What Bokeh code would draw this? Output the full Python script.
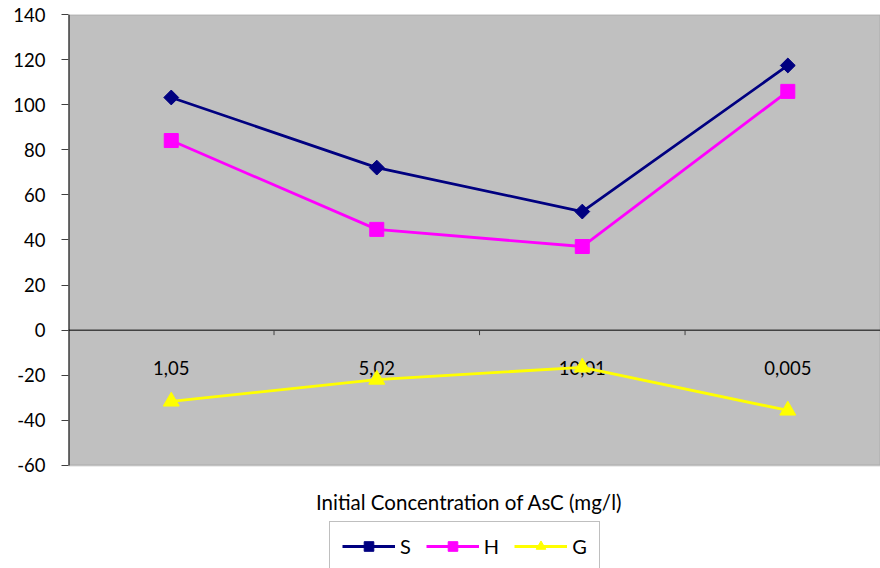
import math
from bokeh.plotting import figure
from bokeh.models import (Range1d, FixedTicker, Legend, LegendItem,
                          ColumnDataSource, BoxAnnotation, Label)
from bokeh.core.properties import value
from bokeh.embed import file_html
from bokeh.resources import INLINE

# Initial AsC concentrations (mg/l) and the three thermodynamic series
categories = ["1,05", "5,02", "10,01", "0,005"]
s_values = [103.2, 72.1, 52.6, 117.4]
h_values = [84.1, 44.7, 37.1, 105.9]
g_values = [-31.6, -21.9, -16.5, -35.6]
y_ticks = [-60, -40, -20, 0, 20, 40, 60, 80, 100, 120, 140]
y_min, y_max = -60, 140

FONT = "Lato"
xs = [i + 0.5 for i in range(len(categories))]
x_end = 3.951

# The canvas below the plot area (axis title and legend) lives inside the
# frame, so the visible plot area is drawn as a box over [y_min, y_max].
p = figure(width=880, height=568, output_backend="svg", toolbar_location=None,
           x_range=Range1d(0, x_end), y_range=Range1d(-105.7, y_max),
           min_border_left=68, min_border_right=0, min_border_top=14,
           min_border_bottom=0)
p.background_fill_color = "white"
p.border_fill_color = "white"
p.outline_line_color = None
p.grid.visible = False
p.xaxis.visible = False

p.add_layout(BoxAnnotation(left=0, right=x_end, bottom=y_min, top=y_max,
                           fill_color="#c0c0c0", fill_alpha=1,
                           line_color="#808080", line_width=2,
                           level="underlay"))

# value axis
p.yaxis.ticker = FixedTicker(ticks=y_ticks)
p.yaxis.major_label_overrides = {t: str(t) for t in y_ticks}
p.yaxis.axis_line_color = None
p.yaxis.major_tick_out = 7
p.yaxis.major_tick_in = 0
p.yaxis.major_tick_line_color = "#404040"
p.yaxis.minor_tick_line_color = None
p.yaxis.major_label_standoff = 16
p.yaxis.major_label_text_font = FONT
p.yaxis.major_label_text_font_size = "18.5px"
p.yaxis.major_label_text_color = "black"
p.segment(x0=[0], x1=[0], y0=[y_min], y1=[y_max], line_color="black", line_width=2)

# zero line with tick marks between categories
p.segment(x0=[0], x1=[x_end], y0=[0], y1=[0], line_color="black", line_width=1)
bounds = list(range(1, len(categories)))
p.segment(x0=bounds, x1=bounds, y0=[0] * len(bounds), y1=[-2.2] * len(bounds),
          line_color="#404040", line_width=1)

# category labels just under the zero line
p.text(x=xs, y=[0] * len(xs), text=categories, y_offset=38,
       text_font=value(FONT), text_font_size="18.5px", text_color="black",
       text_align="center", text_baseline="middle")

# category axis title
p.add_layout(Label(x=1.95, y=y_min, y_offset=-37,
                   text="Initial Concentration of AsC (mg/l)",
                   text_font=FONT, text_font_size="20.5px", text_color="black",
                   text_align="center", text_baseline="middle"))

src = ColumnDataSource(dict(x=xs, s=s_values, h=h_values, g=g_values))

s_line = p.line("x", "s", source=src, line_color="#000080", line_width=2.8)
s_mark = p.scatter("x", "s", source=src, marker="square", size=10.5,
                   angle=math.pi / 4,
                   fill_color="#000080", line_color="#000080")
h_line = p.line("x", "h", source=src, line_color="#ff00ff", line_width=2.8)
h_mark = p.scatter("x", "h", source=src, marker="square", size=14,
                   fill_color="#ff00ff", line_color="#ff00ff")
g_line = p.line("x", "g", source=src, line_color="#ffff00", line_width=2.8)
g_mark = p.scatter("x", "g", source=src, marker="triangle", size=16,
                   fill_color="#ffff00", line_color="#ffff00")

legend = Legend(items=[
    LegendItem(label="S", renderers=[s_line, s_mark]),
    LegendItem(label="H", renderers=[h_line, h_mark]),
    LegendItem(label="G", renderers=[g_line, g_mark]),
], orientation="horizontal", location=(261, -3))
legend.glyph_width = 53
legend.glyph_height = 24
legend.label_height = 20
legend.label_width = 8
legend.label_standoff = 5
legend.spacing = 15
legend.padding = 12
legend.margin = 0
legend.border_line_color = "#808080"
legend.border_line_width = 1
legend.background_fill_color = "white"
legend.label_text_font = FONT
legend.label_text_font_size = "20px"
legend.label_text_color = "black"
p.add_layout(legend)

open("out.html", "w").write(file_html(p, INLINE))
